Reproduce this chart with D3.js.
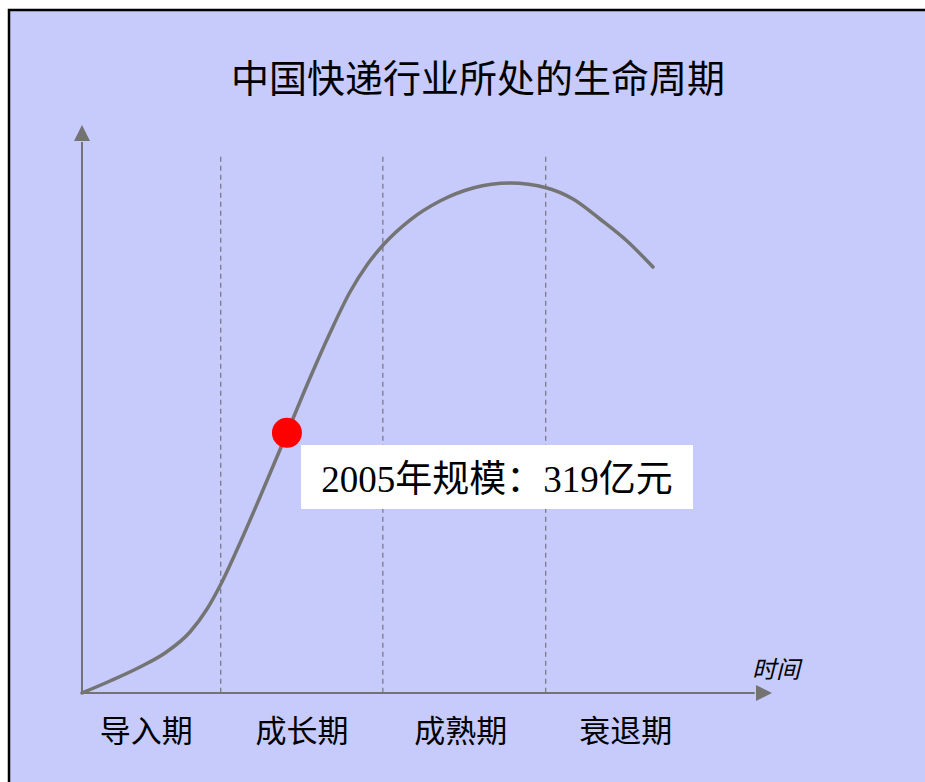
<!DOCTYPE html>
<html><head><meta charset="utf-8">
<script src="https://cdn.jsdelivr.net/npm/d3@7/dist/d3.min.js"></script>
<style>html,body{margin:0;padding:0;background:#fff;overflow:hidden}</style>
</head><body>
<script>
const title = "中国快递行业所处的生命周期";
const stageNames = ["导入期", "成长期", "成熟期", "衰退期"];
const stageCenters = [9.3, 31.9, 54.9, 78.8];
const stageBounds = [20.1, 43.6, 67.2];
const curveX = [0, 4.06, 8.41, 12.03, 15.65, 18.12, 20.14, 22.90, 25.80, 29.71, 33.04, 35.94, 38.84, 41.30, 43.77, 47.54, 51.88, 56.67, 62.03, 67.39, 71.16, 75.07, 78.99, 82.75];
const curveY = [0, 2.11, 4.58, 7.04, 10.74, 14.79, 19.19, 26.41, 34.51, 45.77, 55.46, 63.38, 70.60, 75.35, 79.05, 83.27, 86.62, 88.91, 89.79, 88.91, 86.97, 83.45, 79.58, 75.00];
const markerX = 29.7, markerY = 45.8;
const markerLabel = "2005年规模：319亿元";
const xAxisLabel = "时间";

const W = 925, H = 782;
const svg = d3.select("body").append("svg").attr("width", W).attr("height", H);

// panel
svg.append("rect").attr("x", 9).attr("y", 10).attr("width", W + 20).attr("height", H + 20)
  .attr("fill", "#c6cbfb").attr("stroke", "#000").attr("stroke-width", 2.5);

const x = d3.scaleLinear().domain([0, 100]).range([82, 772]);
const y = d3.scaleLinear().domain([0, 100]).range([693, 125]);

// title
svg.append("text").attr("x", 478).attr("y", 92).attr("text-anchor", "middle")
  .attr("font-family", "'Noto Sans CJK SC'").attr("font-size", 38).attr("fill", "#000").text(title);

// dashed stage dividers
svg.selectAll("line.div").data(stageBounds).enter().append("line")
  .attr("x1", d => x(d)).attr("x2", d => x(d)).attr("y1", y(94.4)).attr("y2", y(0))
  .attr("stroke", "#7a7a8a").attr("stroke-width", 1.3).attr("stroke-dasharray", "5,4");

const axisColor = "#737373";
// y axis
svg.append("line").attr("x1", x(0)).attr("x2", x(0)).attr("y1", y(0)).attr("y2", y(97))
  .attr("stroke", axisColor).attr("stroke-width", 2);
svg.append("path").attr("d", `M${x(0)},${y(100)} L${x(0) - 8},${y(100) + 16} L${x(0) + 8},${y(100) + 16} Z`).attr("fill", axisColor);
// x axis
svg.append("line").attr("x1", x(0)).attr("x2", x(97.5)).attr("y1", y(0)).attr("y2", y(0))
  .attr("stroke", axisColor).attr("stroke-width", 2);
svg.append("path").attr("d", `M${x(100)},${y(0)} L${x(100) - 16},${y(0) - 8} L${x(100) - 16},${y(0) + 8} Z`).attr("fill", axisColor);

// curve
const pts = curveX.map((v, i) => [v, curveY[i]]);
svg.append("path").datum(pts)
  .attr("d", d3.line().x(d => x(d[0])).y(d => y(d[1])).curve(d3.curveMonotoneX))
  .attr("fill", "none").attr("stroke", "#747474").attr("stroke-width", 3.5).attr("stroke-linecap", "round");

// label box
svg.append("rect").attr("x", 301).attr("y", 445).attr("width", 392).attr("height", 64).attr("fill", "#fff");
svg.append("text").attr("x", 497).attr("y", 492).attr("text-anchor", "middle")
  .attr("font-family", "'Liberation Serif','Noto Sans CJK SC'").attr("font-size", 37).attr("fill", "#000")
  .text(markerLabel);

// marker
svg.append("circle").attr("cx", x(markerX)).attr("cy", y(markerY)).attr("r", 15).attr("fill", "#ff0000");

// stage labels
svg.selectAll("text.stage").data(stageNames).enter().append("text")
  .attr("x", (d, i) => x(stageCenters[i])).attr("y", 742).attr("text-anchor", "middle")
  .attr("font-family", "'Noto Sans CJK SC'").attr("font-size", 31).attr("fill", "#000").text(d => d);

// x axis label
svg.append("text").attr("x", 776).attr("y", 678).attr("text-anchor", "middle")
  .attr("font-family", "'Noto Sans CJK SC'").attr("font-size", 24).attr("font-style", "italic")
  .attr("fill", "#000").text(xAxisLabel);
</script>
</body></html>
